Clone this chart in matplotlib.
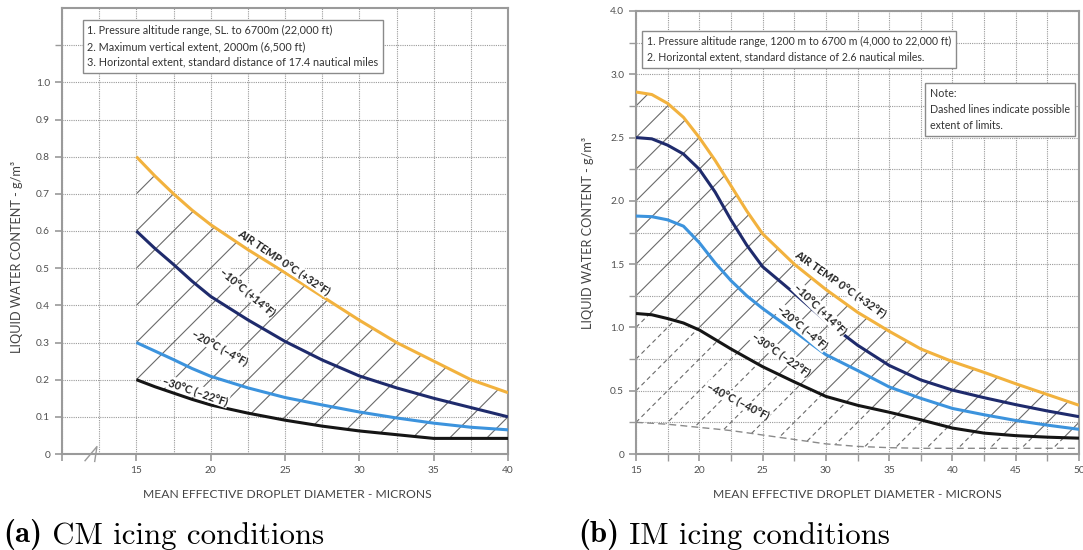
import numpy as np
import matplotlib
matplotlib.use("Agg")
import matplotlib.pyplot as plt
from matplotlib.collections import LineCollection
from matplotlib.patches import Polygon

# ---------------- data ----------------
cm_x = [15, 16.25, 17.5, 18.75, 20, 22.5, 25, 27.5, 30, 32.5, 35, 37.5, 40]
cm_0 = [0.80, 0.748, 0.70, 0.656, 0.617, 0.55, 0.488, 0.424, 0.36, 0.30, 0.25, 0.20, 0.165]
cm_m10 = [0.60, 0.553, 0.51, 0.465, 0.424, 0.361, 0.303, 0.253, 0.21, 0.178, 0.15, 0.125, 0.10]
cm_m20 = [0.30, 0.277, 0.254, 0.23, 0.209, 0.178, 0.152, 0.132, 0.113, 0.097, 0.083, 0.072, 0.065]
cm_m30 = [0.20, 0.181, 0.164, 0.147, 0.132, 0.11, 0.091, 0.075, 0.062, 0.052, 0.042, 0.042, 0.042]

im_x = [15, 16.25, 17.5, 18.75, 20, 21.25, 22.5, 23.75, 25, 27.5, 30, 32.5, 35, 37.5, 40,
        42.5, 45, 47.5, 50]
im_0 = [2.86, 2.84, 2.77, 2.66, 2.50, 2.32, 2.12, 1.92, 1.74, 1.50, 1.30, 1.12, 0.97, 0.83,
        0.73, 0.645, 0.555, 0.47, 0.385]
im_m10 = [2.50, 2.49, 2.44, 2.37, 2.25, 2.07, 1.85, 1.65, 1.48, 1.27, 1.05, 0.86, 0.70, 0.585,
          0.505, 0.445, 0.39, 0.34, 0.295]
im_m20 = [1.88, 1.875, 1.85, 1.80, 1.67, 1.51, 1.37, 1.25, 1.15, 0.97, 0.785, 0.66, 0.53, 0.44,
          0.36, 0.31, 0.265, 0.228, 0.195]
im_m30 = [1.11, 1.10, 1.07, 1.035, 0.98, 0.905, 0.83, 0.76, 0.69, 0.57, 0.455, 0.385, 0.33,
          0.27, 0.205, 0.165, 0.145, 0.133, 0.125]
im_lim = [0.25, 0.243, 0.235, 0.223, 0.21, 0.198, 0.185, 0.168, 0.15, 0.115, 0.08, 0.06, 0.05,
          0.045, 0.045, 0.045, 0.045, 0.045, 0.045]

cm_labels = ["AIR TEMP 0°C (+32°F)", "–10°C (+14°F)", "–20°C (–4°F)", "–30°C (–22°F)"]
im_labels = ["AIR TEMP 0°C (+32°F)", "–10°C (+14°F)", "–20°C (–4°F)", "–30°C (–22°F)", "–40°C (–40°F)"]

cm_notes = ("1. Pressure altitude range, SL. to 6700m (22,000 ft)\n"
            "2. Maximum vertical extent, 2000m (6,500 ft)\n"
            "3. Horizontal extent, standard distance of 17.4 nautical miles")
im_notes = ("1. Pressure altitude range, 1200 m to 6700 m (4,000 to 22,000 ft)\n"
            "2. Horizontal extent, standard distance of 2.6 nautical miles.")
im_note2 = "Note:\nDashed lines indicate possible\nextent of limits."

cm_yticks = [0, 0.1, 0.2, 0.3, 0.4, 0.5, 0.6, 0.7, 0.8, 0.9, 1.0]
cm_yticklabels = ["0", "0.1", "0.2", "0.3", "0.4", "0.5", "0.6", "0.7", "0.8", "0.9", "1.0"]
cm_xticks = [10, 15, 20, 25, 30, 35, 40]
cm_xticklabels = ["", "15", "20", "25", "30", "35", "40"]
im_yticks = [0, 0.5, 1.0, 1.5, 2.0, 2.5, 3.0, 3.5]
im_yticklabels = ["0", "0.5", "1.0", "1.5", "2.0", "2.5", "3.0", "4.0"]
im_xticks = [15, 20, 25, 30, 35, 40, 45, 50]
im_xticklabels = ["15", "20", "25", "30", "35", "40", "45", "50"]

# ---------------- style ----------------
SANS = ["Lato", "DejaVu Sans"]
ORANGE = "#F2B23E"
NAVY = "#1F2B6C"
LBLUE = "#3C93DD"
BLACK = "#151515"
GRID = "#9a9a9a"
SPINE = "#9a9a9a"
TXT = "#505050"

fig = plt.figure(figsize=(10.83, 5.5), dpi=100)
fig.patch.set_facecolor("white")

axL = fig.add_axes([62 / 1083, 96 / 550, 446 / 1083, 446 / 550])
axR = fig.add_axes([636 / 1083, 96 / 550, 443 / 1083, 443 / 550])


def style_axes(ax, xmin, xmax, ymax, xt, xtl, yt, ytl, xminor, yminor, minor_len):
    ax.set_xlim(xmin, xmax)
    ax.set_ylim(0, ymax)
    ax.set_xticks(xt)
    ax.set_xticklabels(xtl)
    ax.set_yticks(yt)
    ax.set_yticklabels(ytl)
    ax.set_xticks(xminor, minor=True)
    ax.set_yticks(yminor, minor=True)
    ax.grid(which="both", color=GRID, linestyle=(0, (1, 1)), linewidth=0.8)
    ax.set_axisbelow(True)
    for s in ax.spines.values():
        s.set_color(SPINE)
        s.set_linewidth(1.5)
    ax.tick_params(which="major", direction="out", length=5, width=1.2, color=SPINE,
                   labelcolor=TXT, labelsize=7.3)
    ax.tick_params(which="minor", direction="out", length=minor_len, width=1.0, color=SPINE)
    for lab in ax.get_xticklabels() + ax.get_yticklabels():
        lab.set_family(SANS)


style_axes(axL, 10, 40, 1.2, cm_xticks, cm_xticklabels, cm_yticks, cm_yticklabels,
           np.arange(12.5, 40, 5), [1.1], 5)
style_axes(axR, 15, 50, 3.5, im_xticks, im_xticklabels, im_yticks, im_yticklabels,
           np.arange(17.5, 50, 5), np.arange(0.25, 3.5, 0.5), 5)
axL.tick_params(axis="x", which="minor", length=0)


def hatch(ax, xs, low, high, slope, step, cmin, cmax, ls="-"):
    verts = np.column_stack([np.r_[xs, xs[::-1]], np.r_[low, high[::-1]]])
    poly = Polygon(verts, closed=True, facecolor="none", edgecolor="none")
    ax.add_patch(poly)
    x0, x1 = xs[0], xs[-1]
    segs = [[(x0, c), (x1, c + slope * (x1 - x0))] for c in np.arange(cmin, cmax, step)]
    lc = LineCollection(segs, colors="#6a6a6a", linewidths=0.8, linestyles=ls, zorder=2)
    ax.add_collection(lc)
    lc.set_clip_path(poly)


# ---------------- left: CM ----------------
xs = np.array(cm_x)
hatch(axL, xs, np.array(cm_m30), np.array(cm_0), 0.1 / 2.5, 0.1, -1.5, 1.3)
for ys, col in [(cm_0, ORANGE), (cm_m10, NAVY), (cm_m20, LBLUE), (cm_m30, BLACK)]:
    axL.plot(cm_x, ys, color=col, lw=2.2, zorder=4, solid_capstyle="butt",
             solid_joinstyle="round")

lab_pos_L = [(24.9, 0.517, -34), (22.5, 0.437, -40), (20.6, 0.288, -29), (18.95, 0.17, -19)]
for (x, y, r), t in zip(lab_pos_L, cm_labels):
    axL.text(x, y, t, rotation=r, ha="center", va="center", fontsize=7.8, fontweight="bold",
             family=SANS, color="#222222", rotation_mode="anchor", zorder=5,
             bbox=dict(boxstyle="square,pad=0.1", fc="white", ec="none"))

axL.text(0.057, 0.962, cm_notes, transform=axL.transAxes, ha="left", va="top",
         fontsize=7.8, family=SANS, color="#333333", linespacing=1.55, zorder=6,
         bbox=dict(boxstyle="square,pad=0.45", fc="white", ec="#8a8a8a", lw=1))

# axis break mark
axL.plot([11.55, 12.35, 12.2], [-0.018, 0.02, -0.02], color=SPINE, lw=1.0, clip_on=False, zorder=6)

# ---------------- right: IM ----------------
xs = np.array(im_x)
hatch(axR, xs, np.array(im_m30), np.array(im_0), 0.25 / 2.5, 0.25, -4.0, 3.6)
hatch(axR, xs, np.array(im_lim), np.array(im_m30), 0.25 / 2.5, 0.25, -4.0, 3.6, ls=(0, (4, 3)))
axR.plot(im_x, im_lim, color="#8a8a8a", lw=1.0, ls=(0, (5, 3)), zorder=3)
for ys, col in [(im_0, ORANGE), (im_m10, NAVY), (im_m20, LBLUE), (im_m30, BLACK)]:
    axR.plot(im_x, ys, color=col, lw=2.2, zorder=4, solid_capstyle="butt",
             solid_joinstyle="round")

lab_pos_R = [(31.2, 1.343, -35), (29.55, 1.145, -44), (28.1, 1.0, -40), (26.45, 0.79, -35),
             (23.05, 0.419, -27)]
for (x, y, r), t in zip(lab_pos_R, im_labels):
    axR.text(x, y, t, rotation=r, ha="center", va="center", fontsize=7.8, fontweight="bold",
             family=SANS, color="#222222", rotation_mode="anchor", zorder=5,
             bbox=dict(boxstyle="square,pad=0.1", fc="white", ec="none"))

axR.text(0.025, 0.944, im_notes, transform=axR.transAxes, ha="left", va="top",
         fontsize=7.6, family=SANS, color="#333333", linespacing=1.55, zorder=6,
         bbox=dict(boxstyle="square,pad=0.45", fc="white", ec="#8a8a8a", lw=1))
axR.text(0.664, 0.826, im_note2, transform=axR.transAxes, ha="left", va="top",
         fontsize=7.7, family=SANS, color="#333333", linespacing=1.55, zorder=6,
         bbox=dict(boxstyle="square,pad=0.45", fc="white", ec="#8a8a8a", lw=1))

# ---------------- axis labels ----------------
ylab = "LIQUID WATER CONTENT - g/m³"
xlab = "MEAN EFFECTIVE DROPLET DIAMETER - MICRONS"
fig.text(17 / 1083, 1 - 257 / 550, ylab, rotation=90, ha="center", va="center",
         fontsize=9.2, family=SANS, color="#444444")
fig.text(588 / 1083, 1 - 233 / 550, ylab, rotation=90, ha="center", va="center",
         fontsize=9.2, family=SANS, color="#444444")
fig.text(287 / 1083, 1 - 494 / 550, xlab, ha="center", va="center",
         fontsize=8.7, family=SANS, color="#444444")
fig.text(857 / 1083, 1 - 494 / 550, xlab, ha="center", va="center",
         fontsize=8.7, family=SANS, color="#444444")

# ---------------- captions ----------------
for x0, tag, rest in [(3, "(a)", " CM icing conditions"), (578, "(b)", " IM icing conditions")]:
    t1 = fig.text(x0 / 1083, 1 - 542 / 550, tag, ha="left", va="baseline",
                  fontsize=22.2, family="cmb10", color="black")
    plt.annotate(rest, xy=(1, 0), xycoords=t1, xytext=(0, 0), textcoords="offset points",
                 ha="left", va="bottom", fontsize=22.2, family="cmr10", color="black",
                 annotation_clip=False)

fig.savefig("out.png", dpi=100, facecolor="white")
